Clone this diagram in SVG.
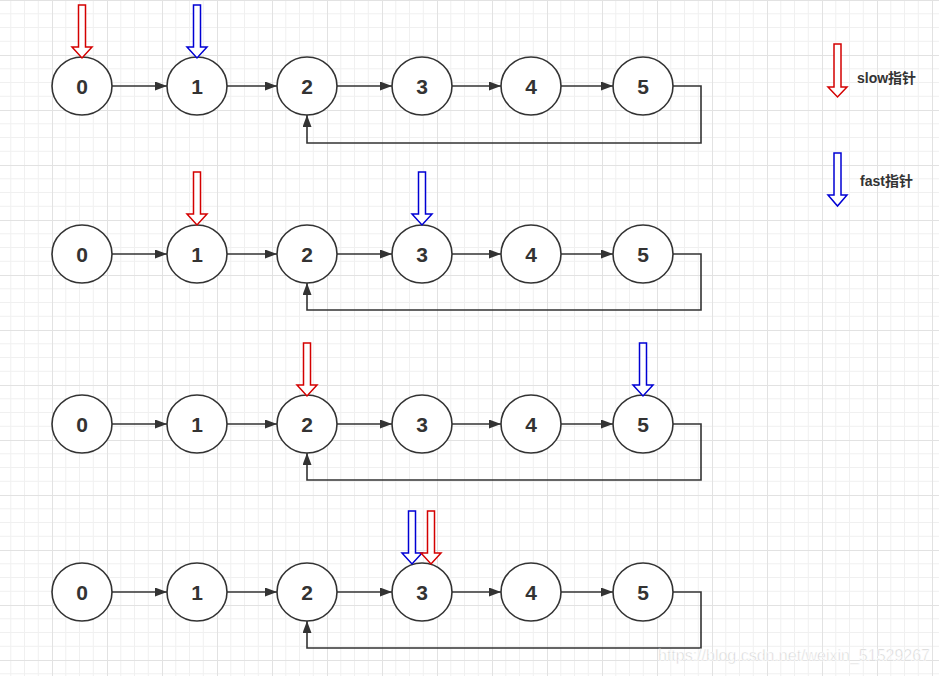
<svg xmlns="http://www.w3.org/2000/svg" width="939" height="676" viewBox="0 0 939 676">
<defs>
<pattern id="grid" x="52" y="0" width="55" height="55" patternUnits="userSpaceOnUse">
<path d="M13.75 0V55M27.5 0V55M41.25 0V55M0 13.75H55M0 27.5H55M0 41.25H55" stroke="#f0f0f0" stroke-width="1" fill="none"/>
<path d="M0.5 0V55M0 0.5H55" stroke="#e2e2e2" stroke-width="1" fill="none"/>
</pattern>
<marker id="ah" viewBox="0 0 12 9" refX="12" refY="4.5" markerWidth="12" markerHeight="9" markerUnits="userSpaceOnUse" orient="auto">
<path d="M0 0L12 4.5L0 9Z" fill="#333"/>
</marker>
</defs>
<style>
.node ellipse{fill:#fff;stroke:#333;stroke-width:1.6}
.node text{font-family:"Liberation Sans",Arial,sans-serif;font-weight:bold;font-size:21px;fill:#333;text-anchor:middle}
.edge{stroke:#333;stroke-width:1.6;fill:none}
.red{fill:#fff;stroke:#d40000;stroke-width:1.5}
.blue{fill:#fff;stroke:#0000d4;stroke-width:1.5}
.legend{font-family:"Liberation Sans","Noto Sans CJK SC",sans-serif;font-weight:bold;font-size:14px;fill:#333}
.wm{font-family:"Liberation Sans",Arial,sans-serif;font-size:16px;fill:#cfcfcf;stroke:#fff;stroke-width:0.6}
</style>
<rect width="939" height="676" fill="#fff"/>
<rect width="939" height="676" fill="url(#grid)"/>

<g id="connectors">
<path class="edge" d="M112 86H167" marker-end="url(#ah)"/>
<path class="edge" d="M227 86H277" marker-end="url(#ah)"/>
<path class="edge" d="M337 86H392" marker-end="url(#ah)"/>
<path class="edge" d="M452 86H501" marker-end="url(#ah)"/>
<path class="edge" d="M561 86H613" marker-end="url(#ah)"/>
<path class="edge" d="M673 86H701V143H307V115" marker-end="url(#ah)"/>
<path class="edge" d="M112 254H167" marker-end="url(#ah)"/>
<path class="edge" d="M227 254H277" marker-end="url(#ah)"/>
<path class="edge" d="M337 254H392" marker-end="url(#ah)"/>
<path class="edge" d="M452 254H501" marker-end="url(#ah)"/>
<path class="edge" d="M561 254H613" marker-end="url(#ah)"/>
<path class="edge" d="M673 254H701V310H307V283" marker-end="url(#ah)"/>
<path class="edge" d="M112 424H167" marker-end="url(#ah)"/>
<path class="edge" d="M227 424H277" marker-end="url(#ah)"/>
<path class="edge" d="M337 424H392" marker-end="url(#ah)"/>
<path class="edge" d="M452 424H501" marker-end="url(#ah)"/>
<path class="edge" d="M561 424H613" marker-end="url(#ah)"/>
<path class="edge" d="M673 424H701V480H307V453" marker-end="url(#ah)"/>
<path class="edge" d="M112 592H167" marker-end="url(#ah)"/>
<path class="edge" d="M227 592H277" marker-end="url(#ah)"/>
<path class="edge" d="M337 592H392" marker-end="url(#ah)"/>
<path class="edge" d="M452 592H501" marker-end="url(#ah)"/>
<path class="edge" d="M561 592H613" marker-end="url(#ah)"/>
<path class="edge" d="M673 592H701V648H307V621" marker-end="url(#ah)"/>
</g>

<g id="row1">
<g id="r1n0" class="node"><ellipse cx="82" cy="86" rx="30" ry="29"/><text x="82" y="93.5">0</text></g>
<g id="r1n1" class="node"><ellipse cx="197" cy="86" rx="30" ry="29"/><text x="197" y="93.5">1</text></g>
<g id="r1n2" class="node"><ellipse cx="307" cy="86" rx="30" ry="29"/><text x="307" y="93.5">2</text></g>
<g id="r1n3" class="node"><ellipse cx="422" cy="86" rx="30" ry="29"/><text x="422" y="93.5">3</text></g>
<g id="r1n4" class="node"><ellipse cx="531" cy="86" rx="30" ry="29"/><text x="531" y="93.5">4</text></g>
<g id="r1n5" class="node"><ellipse cx="643" cy="86" rx="30" ry="29"/><text x="643" y="93.5">5</text></g>
</g>
<g id="row2">
<g id="r2n0" class="node"><ellipse cx="82" cy="254" rx="30" ry="29"/><text x="82" y="261.5">0</text></g>
<g id="r2n1" class="node"><ellipse cx="197" cy="254" rx="30" ry="29"/><text x="197" y="261.5">1</text></g>
<g id="r2n2" class="node"><ellipse cx="307" cy="254" rx="30" ry="29"/><text x="307" y="261.5">2</text></g>
<g id="r2n3" class="node"><ellipse cx="422" cy="254" rx="30" ry="29"/><text x="422" y="261.5">3</text></g>
<g id="r2n4" class="node"><ellipse cx="531" cy="254" rx="30" ry="29"/><text x="531" y="261.5">4</text></g>
<g id="r2n5" class="node"><ellipse cx="643" cy="254" rx="30" ry="29"/><text x="643" y="261.5">5</text></g>
</g>
<g id="row3">
<g id="r3n0" class="node"><ellipse cx="82" cy="424" rx="30" ry="29"/><text x="82" y="431.5">0</text></g>
<g id="r3n1" class="node"><ellipse cx="197" cy="424" rx="30" ry="29"/><text x="197" y="431.5">1</text></g>
<g id="r3n2" class="node"><ellipse cx="307" cy="424" rx="30" ry="29"/><text x="307" y="431.5">2</text></g>
<g id="r3n3" class="node"><ellipse cx="422" cy="424" rx="30" ry="29"/><text x="422" y="431.5">3</text></g>
<g id="r3n4" class="node"><ellipse cx="531" cy="424" rx="30" ry="29"/><text x="531" y="431.5">4</text></g>
<g id="r3n5" class="node"><ellipse cx="643" cy="424" rx="30" ry="29"/><text x="643" y="431.5">5</text></g>
</g>
<g id="row4">
<g id="r4n0" class="node"><ellipse cx="82" cy="592" rx="30" ry="29"/><text x="82" y="599.5">0</text></g>
<g id="r4n1" class="node"><ellipse cx="197" cy="592" rx="30" ry="29"/><text x="197" y="599.5">1</text></g>
<g id="r4n2" class="node"><ellipse cx="307" cy="592" rx="30" ry="29"/><text x="307" y="599.5">2</text></g>
<g id="r4n3" class="node"><ellipse cx="422" cy="592" rx="30" ry="29"/><text x="422" y="599.5">3</text></g>
<g id="r4n4" class="node"><ellipse cx="531" cy="592" rx="30" ry="29"/><text x="531" y="599.5">4</text></g>
<g id="r4n5" class="node"><ellipse cx="643" cy="592" rx="30" ry="29"/><text x="643" y="599.5">5</text></g>
</g>

<g id="pointers">
<path class="red" d="M78.5 5H85.5V47H92L82 58L72 47H78.5Z"/>
<path class="blue" d="M193.5 5H200.5V47H207L197 58L187 47H193.5Z"/>
<path class="red" d="M193.5 172H200.5V214H207L197 225L187 214H193.5Z"/>
<path class="blue" d="M418.5 172H425.5V214H432L422 225L412 214H418.5Z"/>
<path class="red" d="M303.5 343H310.5V385H317L307 396L297 385H303.5Z"/>
<path class="blue" d="M639.5 343H646.5V385H653L643 396L633 385H639.5Z"/>
<path class="blue" d="M408.5 511H415.5V553H422L412 564L402 553H408.5Z"/>
<path class="red" d="M427.5 511H434.5V553H441L431 564L421 553H427.5Z"/>
</g>

<g id="legend">
<path class="red" d="M834 44H841V87H847L837.5 97L828 87H834Z"/>
<text class="legend" x="857" y="83">slow指针</text>
<path class="blue" d="M834 153H841V195H847L837.5 206L828 195H834Z"/>
<text class="legend" x="860" y="186">fast指针</text>
</g>

<text class="wm" x="658" y="661" textLength="272" lengthAdjust="spacingAndGlyphs">https://blog.csdn.net/weixin_51529267</text>
</svg>
